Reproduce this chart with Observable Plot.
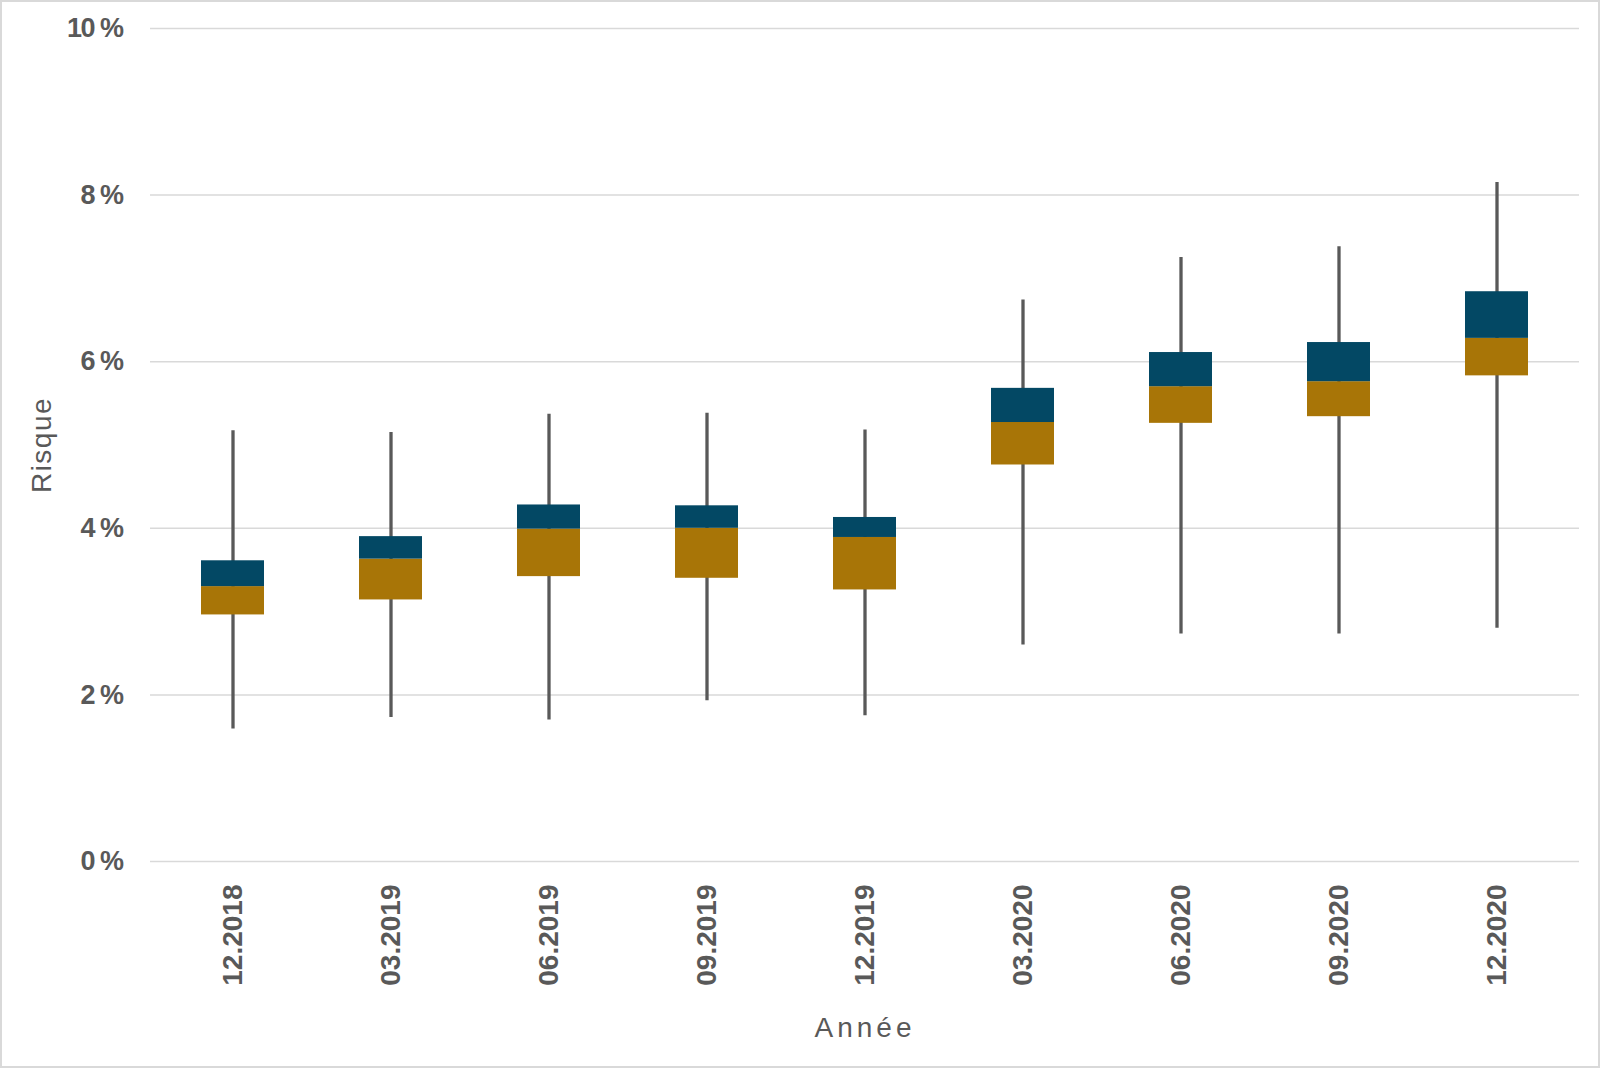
<!DOCTYPE html>
<html>
<head>
<meta charset="utf-8">
<script src="https://cdn.jsdelivr.net/npm/d3@7"></script>
<script src="https://cdn.jsdelivr.net/npm/@observablehq/plot@0.6"></script>
<style>
  html, body { margin: 0; padding: 0; background: #fff; }
  #wrap { position: relative; width: 1600px; height: 1068px; }
  #border { position: absolute; left: 0; top: 0; width: 1600px; height: 1068px; box-sizing: border-box; border: 2px solid #d9d9d9; pointer-events: none; }
  #wrap svg g[aria-label="y-axis tick label"] text { letter-spacing: -1.5px; }
  #wrap svg .lbl-x text { letter-spacing: 4px; }
  #wrap svg .lbl-y text { letter-spacing: 1.5px; }
</style>
</head>
<body>
<div id="wrap"><div id="border"></div></div>
<script>
const categories = ["12.2018","03.2019","06.2019","09.2019","12.2019","03.2020","06.2020","09.2020","12.2020"];
const whiskerLow = [1.59, 1.73, 1.70, 1.93, 1.75, 2.60, 2.73, 2.73, 2.80];
const quartile1  = [2.96, 3.14, 3.42, 3.40, 3.26, 4.76, 5.26, 5.34, 5.83];
const median     = [3.30, 3.63, 3.99, 4.00, 3.89, 5.27, 5.70, 5.76, 6.28];
const quartile3  = [3.61, 3.90, 4.28, 4.27, 4.13, 5.68, 6.11, 6.23, 6.84];
const whiskerHigh= [5.17, 5.15, 5.37, 5.38, 5.18, 6.74, 7.25, 7.38, 8.15];
const yTicks = [0, 2, 4, 6, 8, 10];

const rows = categories.map((c, i) => ({
  cat: c, lo: whiskerLow[i], q1: quartile1[i], med: median[i], q3: quartile3[i], hi: whiskerHigh[i]
}));

const textColor = "#595959";
const chart = Plot.plot({
  width: 1600,
  height: 1068,
  marginLeft: 150,
  marginRight: 21,
  marginTop: 28,
  marginBottom: 207,
  style: { fontFamily: "'Liberation Sans', Arial, sans-serif", color: textColor, background: "transparent" },
  x: { domain: categories, paddingInner: 0.6, paddingOuter: 0.3, align: 0.5 },
  y: { domain: [0, 10] },
  marks: [
    Plot.gridY(yTicks, { stroke: "#d9d9d9", strokeOpacity: 1, strokeWidth: 1.5 }),
    Plot.axisY(yTicks, {
      tickSize: 0, tickPadding: 28, label: null,
      tickFormat: d => d + " %",
      fontSize: 27, fontWeight: "bold", fill: textColor
    }),
    Plot.axisX({
      tickSize: 0, tickPadding: 23, tickRotate: -90, label: null,
      fontSize: 28, fontWeight: "bold", fill: textColor
    }),
    Plot.ruleX(rows, { x: "cat", y1: "lo", y2: "hi", stroke: "#595959", strokeWidth: 3.3 }),
    Plot.barY(rows, { x: "cat", y1: "q1", y2: "med", fill: "#a87507", inset: 0 }),
    Plot.barY(rows, { x: "cat", y1: "med", y2: "q3", fill: "#034864", inset: 0 }),
    Plot.text(["Année"], { frameAnchor: "bottom", textAnchor: "middle", dy: 175, fontSize: 28, fill: textColor, className: "lbl-x" }),
    Plot.text(["Risque"], { frameAnchor: "left", textAnchor: "middle", dx: -108, rotate: -90, fontSize: 28, fill: textColor, className: "lbl-y" })
  ]
});
document.getElementById("wrap").prepend(chart);
</script>
</body>
</html>
